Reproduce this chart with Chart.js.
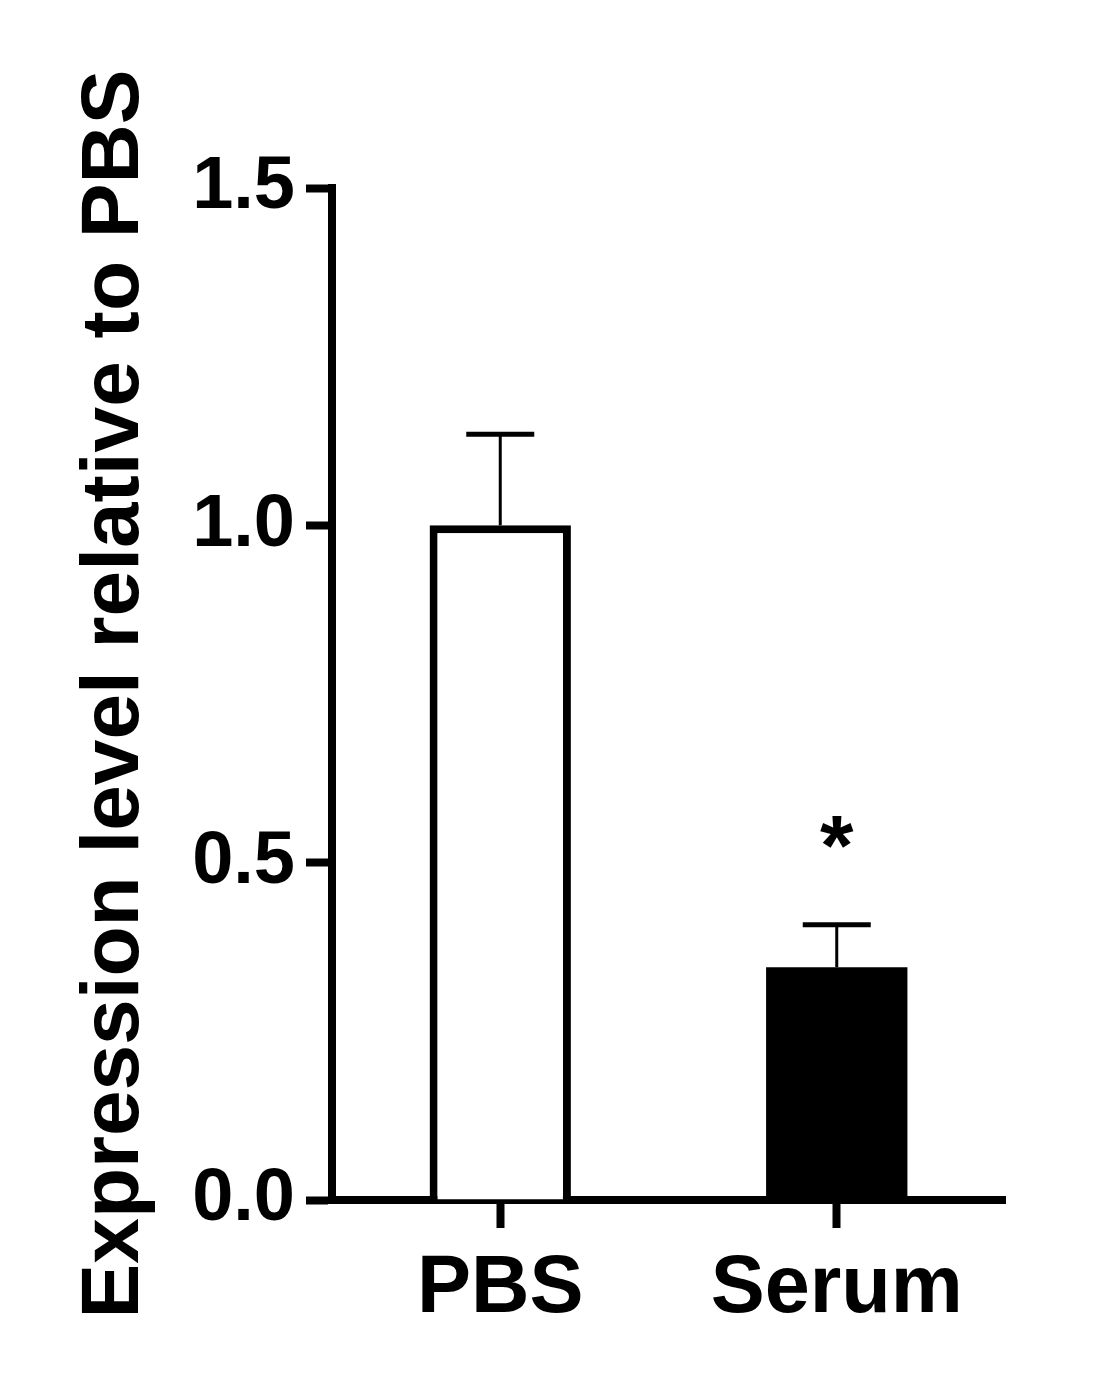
<!DOCTYPE html>
<html>
<head>
<meta charset="utf-8">
<script src="https://cdn.jsdelivr.net/npm/chart.js@4.4.0/dist/chart.umd.min.js"></script>
<style>
  html, body { margin: 0; padding: 0; background: #fff; }
  #wrap { width: 1120px; height: 1400px; position: relative; }
</style>
</head>
<body>
<div id="wrap"><canvas id="chart"></canvas></div>
<script>
// datos
const categorias = ['PBS', 'Serum'];
const medias = [1.0, 0.345];
const errores = [0.135, 0.063];
const significancia = ['', '*'];
const colores = ['#ffffff', '#000000'];
const yMin = 0;
const yMax = 1.5;
const yPaso = 0.5;
const tituloY = 'Expression level relative to PBS';

const fuente = '"Liberation Sans", Arial, Helvetica, sans-serif';

// barras de error + asterisco
const errorBarsPlugin = {
  id: 'errorBars',
  afterDatasetsDraw(chart) {
    const ctx = chart.ctx;
    const yScale = chart.scales.y;
    const meta = chart.getDatasetMeta(0);
    meta.data.forEach((bar, i) => {
      const x = bar.x;
      const yTop = yScale.getPixelForValue(medias[i] + errores[i]);
      ctx.save();
      ctx.strokeStyle = '#000';
      ctx.lineWidth = 3;
      ctx.beginPath();
      ctx.moveTo(x, bar.y);
      ctx.lineTo(x, yTop);
      ctx.stroke();
      ctx.lineWidth = 5;
      ctx.beginPath();
      ctx.moveTo(x - 34, yTop);
      ctx.lineTo(x + 34, yTop);
      ctx.stroke();
      if (significancia[i]) {
        ctx.fillStyle = '#000';
        ctx.font = 'bold 86px ' + fuente;
        ctx.textAlign = 'center';
        ctx.textBaseline = 'alphabetic';
        ctx.fillText(significancia[i], x, yTop - 50);
      }
      ctx.restore();
    });
  }
};

const ctx = document.getElementById('chart').getContext('2d');
new Chart(ctx, {
  type: 'bar',
  data: {
    labels: categorias,
    datasets: [{
      data: medias,
      backgroundColor: colores,
      borderColor: '#000',
      borderWidth: [8, 0],
      barPercentage: 0.42,
      categoryPercentage: 1.0
    }]
  },
  options: {
    responsive: true,
    maintainAspectRatio: false,
    animation: false,
    layout: {
      padding: { top: 188, right: 115, bottom: 0, left: 0 }
    },
    plugins: {
      legend: { display: false },
      tooltip: { enabled: false }
    },
    scales: {
      x: {
        afterFit(scale) { scale.height = 200; },
        grid: {
          offset: false,
          drawOnChartArea: false,
          drawTicks: true,
          tickLength: 28,
          tickWidth: 8,
          tickColor: '#000'
        },
        border: { display: true, color: '#000', width: 8 },
        ticks: {
          color: '#000',
          padding: 13,
          font: { family: fuente, size: 81, weight: 'bold' }
        }
      },
      y: {
        min: yMin,
        max: yMax,
        afterFit(scale) { scale.width = 332; },
        grid: {
          drawOnChartArea: false,
          drawTicks: true,
          tickLength: 26,
          tickWidth: 8,
          tickColor: '#000'
        },
        border: { display: true, color: '#000', width: 8 },
        ticks: {
          stepSize: yPaso,
          color: '#000',
          padding: 11,
          font: { family: fuente, size: 74, weight: 'bold' },
          callback: v => Number(v).toFixed(1)
        },
        title: {
          display: true,
          text: tituloY,
          color: '#000',
          padding: { top: 66, bottom: 0 },
          font: { family: fuente, size: 82, weight: 'bold' }
        }
      }
    }
  },
  plugins: [errorBarsPlugin]
});
</script>
</body>
</html>
